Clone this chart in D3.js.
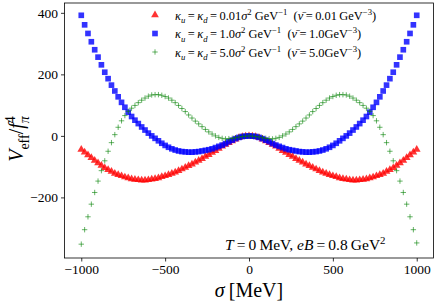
<!DOCTYPE html>
<html>
<head>
<meta charset="utf-8">
<script src="https://cdn.jsdelivr.net/npm/d3@7"></script>
<style>
  body { margin: 0; background: #fff; }
  text { font-family: "Liberation Serif", "DejaVu Serif", serif; fill: #000; }
</style>
</head>
<body>
<div id="chart"></div>
<script>
// sigma grid (MeV)
var sigma = [-1000,-980,-960,-940,-920,-900,-880,-860,-840,-820,-800,-780,-760,-740,-720,-700,-680,-660,-640,-620,
  -600,-580,-560,-540,-520,-500,-480,-460,-440,-420,-400,-380,-360,-340,-320,-300,-280,-260,-240,-220,
  -200,-180,-160,-140,-120,-100,-80,-60,-40,-20,0,20,40,60,80,100,120,140,160,180,
  200,220,240,260,280,300,320,340,360,380,400,420,440,460,480,500,520,540,560,580,
  600,620,640,660,680,700,720,740,760,780,800,820,840,860,880,900,920,940,960,980,1000];

// V_eff / f_pi^4
var vRed = [-44,-53,-62,-71,-80,-88,-96,-104,-110,-116,-122,-126,-130,-134,-137,-140,-142,-143,-144,-144,
  -143,-141,-139,-137,-133,-130,-126,-122,-118,-113,-108,-103,-97,-92,-86,-80,-74,-67,-61,-54,
  -48,-41,-34,-28,-22,-17,-11,-6,-3,-1,0,-1,-3,-6,-11,-17,-22,-28,-34,-41,
  -48,-54,-61,-67,-74,-80,-86,-92,-97,-103,-108,-113,-118,-122,-126,-130,-133,-137,-139,-141,
  -143,-144,-144,-143,-142,-140,-137,-134,-130,-126,-122,-116,-110,-104,-96,-88,-80,-71,-62,-53,-44];

var vBlue = [392,361,333,306,280,256,231,207,186,165,146,127,109,93,77,63,51,40,29,19,
  9,0,-8,-16,-24,-31,-37,-42,-46,-49,-51,-52,-53,-53,-52,-51,-49,-47,-45,-42,
  -38,-34,-30,-25,-19,-14,-9,-5,-2,-1,0,-1,-2,-5,-9,-14,-19,-25,-30,-34,
  -38,-42,-45,-47,-49,-51,-52,-53,-53,-52,-51,-49,-46,-42,-37,-31,-24,-16,-8,0,
  9,19,29,40,51,63,77,93,109,127,146,165,186,207,231,256,280,306,333,361,392];

var vGreen = [-352,-305,-263,-222,-184,-147,-113,-81,-50,-22,4,28,49,66,80,90,99,108,116,123,
  129,133,134,134,132,128,123,116,108,99,89,79,68,58,48,39,30,21,13,6,
  0,-5,-8,-10,-9,-8,-6,-4,-2,-1,0,-1,-2,-4,-6,-8,-9,-10,-8,-5,
  0,6,13,21,30,39,48,58,68,79,89,99,108,116,123,128,132,134,134,133,
  129,123,116,108,99,90,80,66,49,28,4,-22,-50,-81,-113,-147,-184,-222,-263,-305,-348];

var xTicks = [-1000, -500, 0, 500, 1000];
var yTicks = [-200, 0, 200, 400];

var W = 436, H = 302;
var mLeft = 64.5, mRight = 433.5, mTop = 3, mBottom = 258;

var svg = d3.select("#chart").append("svg")
    .attr("width", W)
    .attr("height", H);

var x = d3.scaleLinear().domain([-1100, 1100]).range([mLeft, mRight]);
var y = d3.scaleLinear().domain([-397, 432]).range([mBottom, mTop]);

// axes
var fmt = function (d) { return d < 0 ? "\u2212" + (-d) : d; };
var xAxis = svg.append("g")
    .attr("transform", "translate(0," + mBottom + ")")
    .call(d3.axisBottom(x).tickValues(xTicks).tickSize(3.5).tickPadding(3).tickFormat(fmt));
var yAxis = svg.append("g")
    .attr("transform", "translate(" + mLeft + ",0)")
    .call(d3.axisLeft(y).tickValues(yTicks).tickSize(3.5).tickPadding(3).tickFormat(fmt));
[xAxis, yAxis].forEach(function (g) {
    g.select(".domain").remove();
    g.selectAll("line").attr("stroke", "#000").attr("stroke-width", 0.8);
    g.selectAll("text").style("font-family", "Liberation Serif").style("font-size", "13.5px");
});

// series
var pts = sigma.map(function (s, i) { return { s: s, r: vRed[i], b: vBlue[i], g: vGreen[i] }; });

var tri = d3.symbol().type(d3.symbolTriangle).size(26);
var sq = d3.symbol().type(d3.symbolSquare).size(32);
var plus = "M-2.7,0H2.7M0,-2.7V2.7";

svg.append("g").selectAll("path")
    .data(pts).enter().append("path")
    .attr("d", tri)
    .attr("transform", function (d) { return "translate(" + x(d.s) + "," + y(d.r) + ")"; })
    .attr("fill", "#ff0000")
    .attr("fill-opacity", 0.8);

svg.append("g").selectAll("path")
    .data(pts).enter().append("path")
    .attr("d", sq)
    .attr("transform", function (d) { return "translate(" + x(d.s) + "," + y(d.b) + ")"; })
    .attr("fill", "#0000ff")
    .attr("fill-opacity", 0.8);

svg.append("g").selectAll("path")
    .data(pts).enter().append("path")
    .attr("d", plus)
    .attr("transform", function (d) { return "translate(" + x(d.s) + "," + y(d.g) + ")"; })
    .attr("stroke", "#008000")
    .attr("stroke-width", 1)
    .attr("stroke-opacity", 0.6)
    .attr("fill", "none");

// frame
svg.append("rect")
    .attr("x", mLeft).attr("y", mTop)
    .attr("width", mRight - mLeft).attr("height", mBottom - mTop)
    .attr("fill", "none").attr("stroke", "#000").attr("stroke-width", 0.8);

// rich text helper: segments [text, italic, "sub"|"sup"|null, dx]
function rich(el, segs, fs) {
    var shift = 0;
    segs.forEach(function (sg) {
        var want = sg[2] === "sub" ? fs * 0.3 : sg[2] === "sup" ? -fs * 0.38 : 0;
        var ts = el.append("tspan")
            .attr("dy", want - shift)
            .style("font-style", sg[1] ? "italic" : "normal")
            .style("font-size", (sg[2] ? fs * 0.7 : fs) + "px")
            .text(sg[0]);
        if (sg[3]) ts.attr("dx", sg[3]);
        shift = want;
    });
}

// legend
var legendRows = [
    { k: "0.01", v: "0.01\u2009", yy: 15 },
    { k: "1.0", v: "1.0", yy: 33.5 },
    { k: "5.0", v: "5.0", yy: 52 }
];
var lfs = 12.4;
legendRows.forEach(function (row, i) {
    var mk = svg.append("path").attr("transform", "translate(155," + row.yy + ")");
    if (i === 0) mk.attr("d", tri).attr("fill", "#ff0000").attr("fill-opacity", 0.8);
    if (i === 1) mk.attr("d", sq).attr("fill", "#0000ff").attr("fill-opacity", 0.8);
    if (i === 2) mk.attr("d", plus).attr("stroke", "#008000").attr("stroke-opacity", 0.6);
    var t = svg.append("text").attr("x", 175).attr("y", row.yy + 4.5).style("font-size", lfs + "px");
    rich(t, [
        ["\u03ba", true], ["u", true, "sub"], ["\u2009=\u2009", false], ["\u03ba", true], ["d", true, "sub"],
        ["\u2009=\u2009" + row.k, false], ["\u03c3", true], ["2", false, "sup"], [" GeV", false], ["\u22121", false, "sup"],
        ["\u2002(", false], ["\u03bd\u0304", true], ["\u2009=\u2009" + row.v + "GeV", false], ["\u22123", false, "sup"], [")", false]
    ], lfs);
});

// annotation
var ann = svg.append("text").attr("x", 225).attr("y", 250).style("font-size", "15.5px");
rich(ann, [
    ["T", true], ["\u2009=\u20090\u2009MeV, ", false], ["eB", true], ["\u2009=\u20090.8\u2009GeV", false], ["2", false, "sup"]
], 15.5);

// axis labels
var xl = svg.append("text").attr("x", 249).attr("y", 297).attr("text-anchor", "middle").style("font-size", "20px");
rich(xl, [["\u03c3", true], ["\u2009[MeV]", false]], 20);

var yl = svg.append("text").attr("transform", "translate(23,139) rotate(-90)")
    .attr("text-anchor", "middle").style("font-size", "20px");
rich(yl, [["V", true], ["eff", false, "sub"], ["/", false], ["f", true], ["\u03c0", true, "sub"], ["4", false, "sup", -7]], 20);
</script>
</body>
</html>
